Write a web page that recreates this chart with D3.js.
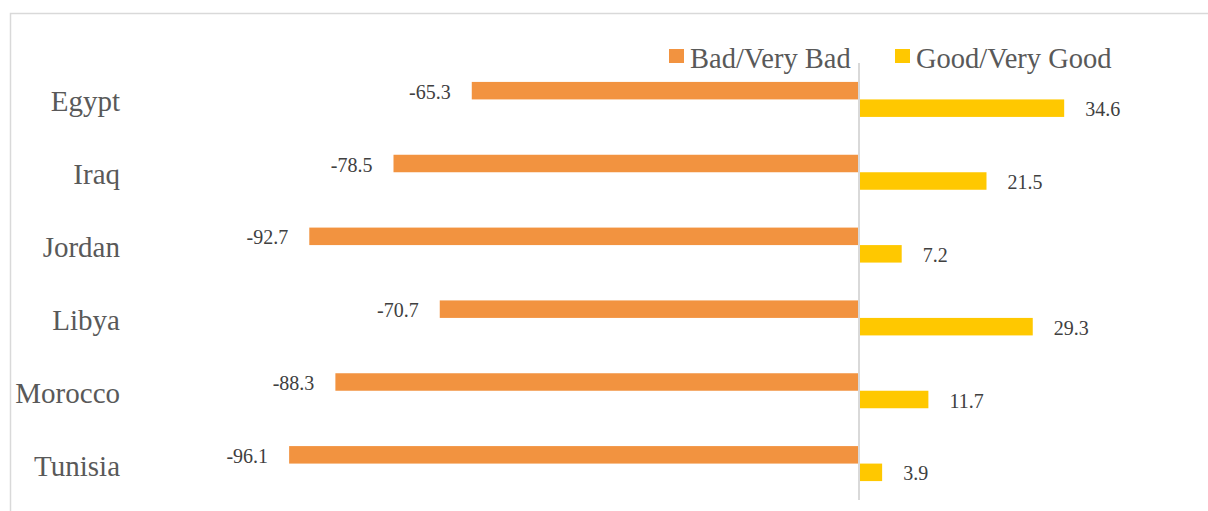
<!DOCTYPE html>
<html>
<head>
<meta charset="utf-8">
<script src="https://cdn.jsdelivr.net/npm/d3@7"></script>
<style>
  html, body { margin: 0; padding: 0; background: #fff; }
  svg { display: block; }
  text { font-family: "Liberation Serif", "Times New Roman", serif; }
</style>
</head>
<body>
<svg id="chart" width="1208" height="511"></svg>
<script>
// Perception of the situation, by country (%)
const countries = ["Egypt", "Iraq", "Jordan", "Libya", "Morocco", "Tunisia"];
const badValues = [-65.3, -78.5, -92.7, -70.7, -88.3, -96.1];
const goodValues = [34.6, 21.5, 7.2, 29.3, 11.7, 3.9];
const seriesNames = ["Bad/Very Bad", "Good/Very Good"];
const seriesColors = ["#f29340", "#ffc800"];

const svg = d3.select("#chart");

// chart frame (open to the right and bottom edges)
svg.append("path")
  .attr("d", "M10.5,520 V13.5 H1220")
  .attr("fill", "none")
  .attr("stroke", "#d9d9d9")
  .attr("stroke-width", 1.5);

const x = d3.scaleLinear().domain([-100, 40]).range([859 - 593, 859 + 237.2]);
const y = d3.scaleBand().domain(countries).range([63, 500]);
const pairH = 35;
const sub = d3.scaleBand().domain([0, 1]).range([0, pairH]);

const rows = countries.map((c, i) => ({ c, vals: [badValues[i], goodValues[i]] }));

const g = svg.append("g");
rows.forEach(r => {
  const top = y(r.c) + (y.bandwidth() - pairH) / 2;
  r.vals.forEach((v, s) => {
    const y0 = top + sub(s);
    g.append("rect")
      .attr("x", Math.min(x(0), x(v)))
      .attr("y", y0)
      .attr("width", Math.abs(x(v) - x(0)))
      .attr("height", sub.bandwidth())
      .attr("fill", seriesColors[s]);
    g.append("text")
      .attr("x", v < 0 ? x(v) - 21 : x(v) + 21)
      .attr("y", y0 + sub.bandwidth() / 2 + 8)
      .attr("text-anchor", v < 0 ? "end" : "start")
      .attr("font-size", 20)
      .attr("fill", "#404040")
      .text(v.toFixed(1));
  });
});

// vertical zero axis
svg.append("line")
  .attr("x1", x(0)).attr("x2", x(0))
  .attr("y1", 63).attr("y2", 500)
  .attr("stroke", "#d9d9d9")
  .attr("stroke-width", 2);

// category labels
svg.append("g").selectAll("text")
  .data(countries)
  .join("text")
  .attr("x", 120)
  .attr("y", d => y(d) + y.bandwidth() / 2 + 12)
  .attr("text-anchor", "end")
  .attr("font-size", 29)
  .attr("fill", "#595959")
  .text(d => d);

// legend
const legendX = [669, 895];
seriesNames.forEach((name, i) => {
  svg.append("rect")
    .attr("x", legendX[i]).attr("y", 49)
    .attr("width", 15).attr("height", 14)
    .attr("fill", seriesColors[i]);
  svg.append("text")
    .attr("x", legendX[i] + 21).attr("y", 68)
    .attr("font-size", 28.5)
    .attr("fill", "#595959")
    .text(name);
});
</script>
</body>
</html>
